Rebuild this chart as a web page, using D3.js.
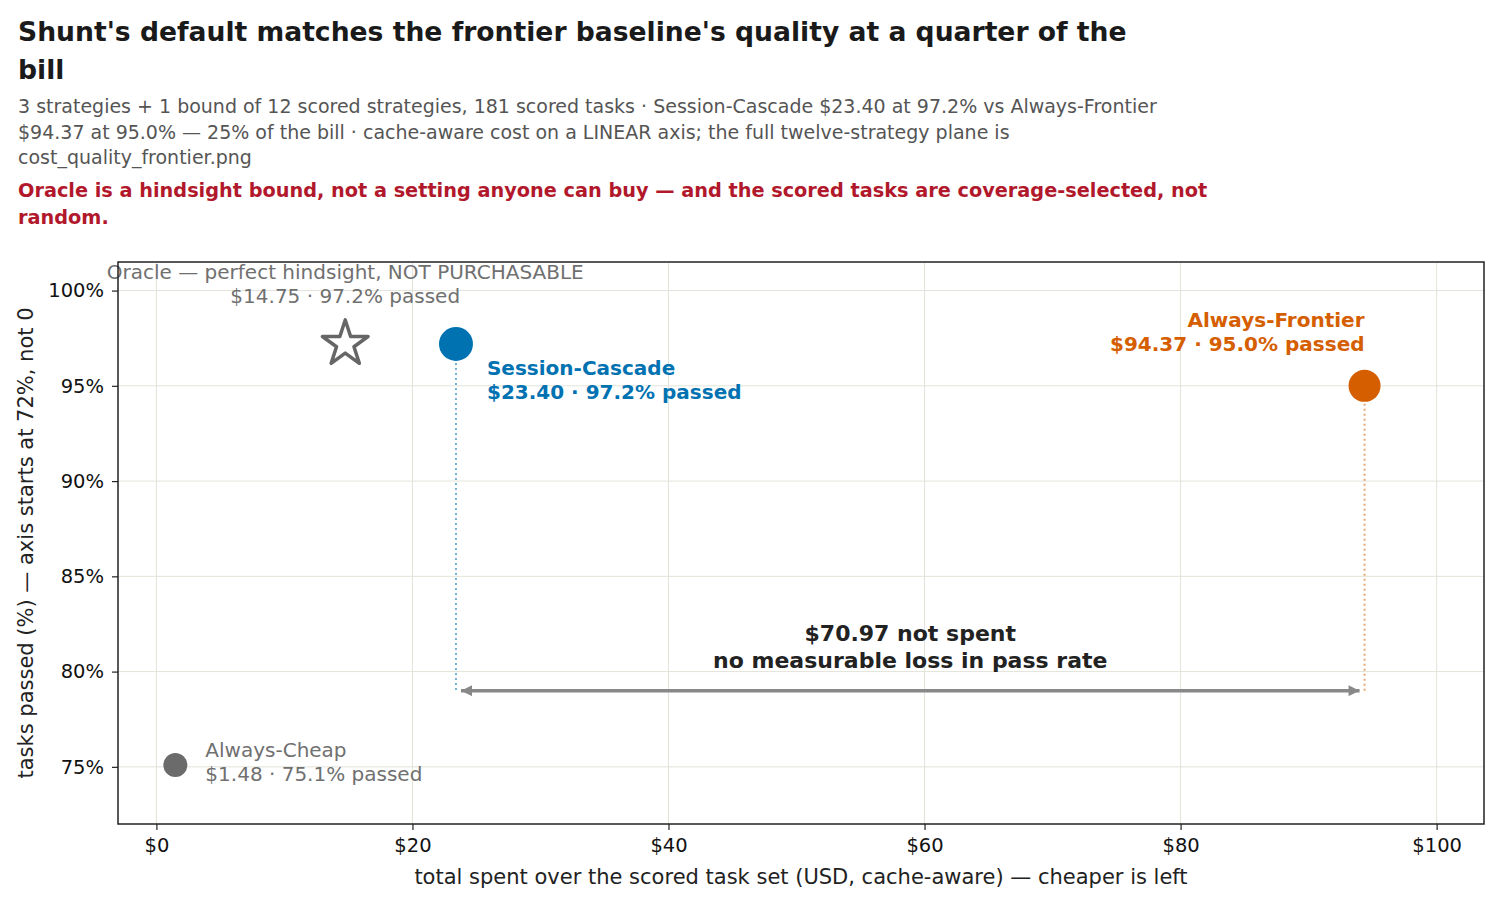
<!DOCTYPE html>
<html>
<head>
<meta charset="utf-8">
<script src="https://cdn.jsdelivr.net/npm/d3@7"></script>
<style>
  body { margin: 0; background: #fff; }
  svg { font-family: "DejaVu Sans", sans-serif; }
</style>
</head>
<body>
<div id="chart"></div>
<script>
// data
const strategies = ['Always-Cheap', 'Session-Cascade', 'Always-Frontier'];
const costs = [1.48, 23.40, 94.37];
const passRates = [75.1, 97.2, 95.0];
const oracleCost = 14.75;
const oraclePass = 97.2;
const arrowLevel = 79;
const xTicks = [0, 20, 40, 60, 80, 100];
const yTicks = [75, 80, 85, 90, 95, 100];

const titleLines = [
    "Shunt's default matches the frontier baseline's quality at a quarter of the",
    "bill"
];
const subtitleLines = [
    "3 strategies + 1 bound of 12 scored strategies, 181 scored tasks · Session-Cascade $23.40 at 97.2% vs Always-Frontier",
    "$94.37 at 95.0% — 25% of the bill · cache-aware cost on a LINEAR axis; the full twelve-strategy plane is",
    "cost_quality_frontier.png"
];
const warningLines = [
    "Oracle is a hindsight bound, not a setting anyone can buy — and the scored tasks are coverage-selected, not",
    "random."
];

const width = 1500;
const height = 900;
const plot = { left: 118, right: 1484, top: 262, bottom: 824 };

const colors = ['#6b6b6b', '#0072b2', '#d55e00'];
const radii = [12, 17, 16];

const svg = d3.select('#chart')
    .append('svg')
    .attr('width', width)
    .attr('height', height);

const x = d3.scaleLinear().domain([-3, 103.7]).range([plot.left, plot.right]);
const y = d3.scaleLinear().domain([72, 101.5]).range([plot.bottom, plot.top]);

// header text
svg.append('g').selectAll('text')
    .data(titleLines).enter().append('text')
    .attr('x', 18).attr('y', (d, i) => 41 + i * 38)
    .style('font-size', '26.6px').style('font-weight', 'bold').attr('fill', '#1a1a1a')
    .text(d => d);

svg.append('g').selectAll('text')
    .data(subtitleLines).enter().append('text')
    .attr('x', 18).attr('y', (d, i) => 113 + i * 25.5)
    .style('font-size', '19px').attr('fill', '#555')
    .text(d => d);

svg.append('g').selectAll('text')
    .data(warningLines).enter().append('text')
    .attr('x', 18).attr('y', (d, i) => 197 + i * 27)
    .style('font-size', '19.3px').style('font-weight', 'bold').attr('fill', '#b2182b')
    .text(d => d);

// grid
const grid = svg.append('g');
grid.selectAll('.vg').data(xTicks).enter().append('line')
    .attr('x1', d => x(d)).attr('x2', d => x(d))
    .attr('y1', plot.top).attr('y2', plot.bottom)
    .attr('stroke', '#e3e3da').attr('stroke-width', 1);
grid.selectAll('.hg').data(yTicks).enter().append('line')
    .attr('x1', plot.left).attr('x2', plot.right)
    .attr('y1', d => y(d)).attr('y2', d => y(d))
    .attr('stroke', '#e3e3da').attr('stroke-width', 1);

// axes
const xAxis = svg.append('g')
    .attr('transform', `translate(0,${plot.bottom})`)
    .call(d3.axisBottom(x).tickValues(xTicks).tickFormat(d => '$' + d).tickSizeOuter(0).tickSize(6).tickPadding(8));
const yAxis = svg.append('g')
    .attr('transform', `translate(${plot.left},0)`)
    .call(d3.axisLeft(y).tickValues(yTicks).tickFormat(d => d + '%').tickSizeOuter(0).tickSize(6).tickPadding(8));
[xAxis, yAxis].forEach(a => {
    a.select('.domain').remove();
    a.selectAll('.tick line').attr('stroke', '#222').attr('stroke-width', 1.2);
    a.selectAll('.tick text').attr('fill', '#111')
        .style('font-size', '19.5px').style('font-family', '"DejaVu Sans", sans-serif');
});

svg.append('text')
    .attr('x', (plot.left + plot.right) / 2).attr('y', 884)
    .attr('text-anchor', 'middle')
    .style('font-size', '21px').attr('fill', '#222')
    .text('total spent over the scored task set (USD, cache-aware) — cheaper is left');

svg.append('text')
    .attr('transform', `translate(33,${(plot.top + plot.bottom) / 2}) rotate(-90)`)
    .attr('text-anchor', 'middle')
    .style('font-size', '21px').attr('fill', '#222')
    .text('tasks passed (%) — axis starts at 72%, not 0');

// dotted drop lines from the two compared strategies to the arrow
[1, 2].forEach(i => {
    svg.append('line')
        .attr('x1', x(costs[i])).attr('x2', x(costs[i]))
        .attr('y1', y(passRates[i]) + radii[i] + 2).attr('y2', y(arrowLevel))
        .attr('stroke', colors[i]).attr('stroke-opacity', 0.55)
        .attr('stroke-width', 2).attr('stroke-dasharray', '2,3');
});

// double-headed savings arrow
const defs = svg.append('defs');
['start', 'end'].forEach(k => {
    defs.append('marker')
        .attr('id', 'head-' + k)
        .attr('viewBox', '0 0 10 10')
        .attr('refX', k === 'end' ? 10 : 0).attr('refY', 5)
        .attr('markerUnits', 'userSpaceOnUse')
        .attr('markerWidth', 13).attr('markerHeight', 11)
        .attr('orient', 'auto')
        .append('path')
        .attr('d', k === 'end' ? 'M0,0 L10,5 L0,10 Z' : 'M10,0 L0,5 L10,10 Z')
        .attr('fill', '#888');
});
svg.append('line')
    .attr('x1', x(costs[1]) + 5).attr('x2', x(costs[2]) - 5)
    .attr('y1', y(arrowLevel)).attr('y2', y(arrowLevel))
    .attr('stroke', '#888').attr('stroke-width', 3.5)
    .attr('marker-start', 'url(#head-start)')
    .attr('marker-end', 'url(#head-end)');

const saved = costs[2] - costs[1];
const midX = x((costs[1] + costs[2]) / 2);
svg.append('g').selectAll('text')
    .data([`$${saved.toFixed(2)} not spent`, 'no measurable loss in pass rate'])
    .enter().append('text')
    .attr('x', midX).attr('y', (d, i) => y(arrowLevel) - 50 + i * 27)
    .attr('text-anchor', 'middle')
    .style('font-size', '22px').style('font-weight', 'bold').attr('fill', '#222')
    .text(d => d);

// oracle star (hollow, five points)
const R = 24, r = R * 0.382;
const starPts = d3.range(10).map(k => {
    const a = -Math.PI / 2 + k * Math.PI / 5;
    const rr = k % 2 === 0 ? R : r;
    return [rr * Math.cos(a), rr * Math.sin(a)];
});
svg.append('path')
    .attr('transform', `translate(${x(oracleCost)},${y(oraclePass)})`)
    .attr('d', d3.line()(starPts) + 'Z')
    .attr('fill', 'none').attr('stroke', '#666').attr('stroke-width', 3.5)
    .attr('stroke-linejoin', 'round');

svg.append('g').selectAll('text')
    .data(['Oracle — perfect hindsight, NOT PURCHASABLE', `$${oracleCost.toFixed(2)} · ${oraclePass.toFixed(1)}% passed`])
    .enter().append('text')
    .attr('x', x(oracleCost)).attr('y', (d, i) => 279 + i * 24)
    .attr('text-anchor', 'middle')
    .style('font-size', '20px').attr('fill', '#707070')
    .text(d => d);

// strategy points
svg.append('g').selectAll('circle')
    .data(strategies).enter().append('circle')
    .attr('cx', (d, i) => x(costs[i]))
    .attr('cy', (d, i) => y(passRates[i]))
    .attr('r', (d, i) => radii[i])
    .attr('fill', (d, i) => colors[i]);

// strategy labels
const labelSpec = [
    { dx: 30, dy: -8, anchor: 'start', bold: false, color: '#707070' },
    { dx: 31, dy: 31, anchor: 'start', bold: true, color: colors[1] },
    { dx: 0, dy: -59, anchor: 'end', bold: true, color: colors[2] }
];
strategies.forEach((name, i) => {
    const s = labelSpec[i];
    svg.append('g').selectAll('text')
        .data([name, `$${costs[i].toFixed(2)} · ${passRates[i].toFixed(1)}% passed`])
        .enter().append('text')
        .attr('x', x(costs[i]) + s.dx)
        .attr('y', (d, j) => y(passRates[i]) + s.dy + j * 24)
        .attr('text-anchor', s.anchor)
        .style('font-size', '20px')
        .style('font-weight', s.bold ? 'bold' : 'normal')
        .attr('fill', s.color)
        .text(d => d);
});

// frame
svg.append('rect')
    .attr('x', plot.left).attr('y', plot.top)
    .attr('width', plot.right - plot.left).attr('height', plot.bottom - plot.top)
    .attr('fill', 'none').attr('stroke', '#222').attr('stroke-width', 1.5);
</script>
</body>
</html>
